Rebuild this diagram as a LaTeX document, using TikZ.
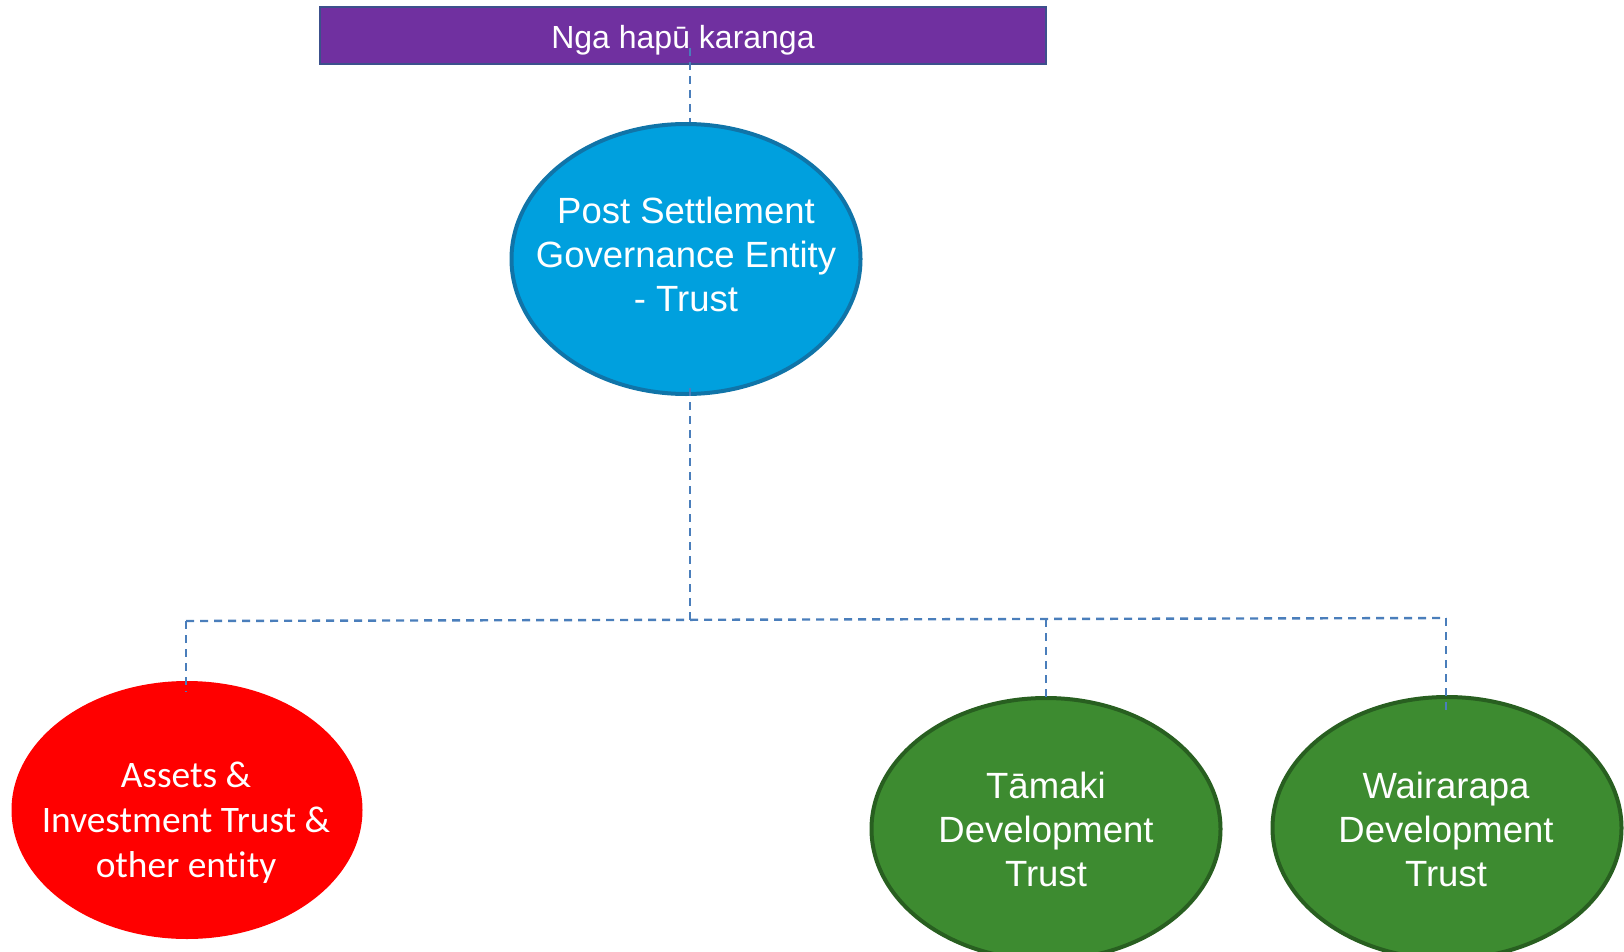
\documentclass[tikz,border=0pt]{standalone}
\usepackage{fontspec}
\setmainfont{Liberation Sans}
\newfontfamily\calib[Ligatures=NoCommon]{Carlito}
\usetikzlibrary{shapes.geometric}
\definecolor{hpurple}{RGB}{112,48,160}
\definecolor{hpborder}{RGB}{60,80,140}
\definecolor{pseblue}{RGB}{0,160,222}
\definecolor{pseborder}{RGB}{16,116,168}
\definecolor{assetred}{RGB}{255,0,0}
\definecolor{devgreen}{RGB}{61,139,48}
\definecolor{devborder}{RGB}{40,95,32}
\definecolor{connblue}{RGB}{74,126,187}
\tikzset{
  titlebox/.style={draw=hpborder, line width=1.5pt, fill=hpurple, minimum width=726pt, minimum height=57pt, inner sep=0pt},
  oval/.style={ellipse, inner sep=0pt, minimum width=349pt},
  pseshape/.style={oval, minimum height=270pt, fill=pseblue, draw=pseborder, line width=4pt},
  redshape/.style={oval, minimum width=351pt, minimum height=258pt, fill=assetred},
  greenshape/.style={oval, minimum height=262pt, fill=devgreen, draw=devborder, line width=4pt},
  lbl/.style={align=center, text=white, inner sep=0pt},
  titletext/.style={lbl, font=\fontsize{32}{38}\selectfont},
  arial/.style={lbl, font=\fontsize{36.5}{44}\selectfont},
  calibri/.style={lbl, font=\calib\fontsize{37.4}{45}\selectfont},
  conn/.style={draw=connblue, line width=2.4pt, dash pattern=on 8pt off 6pt},
}
\begin{document}
\begin{tikzpicture}[x=1pt,y=-1pt]
\useasboundingbox (0,0) rectangle (1624,952);
\node[titlebox] (top) at (683,35.5) {};
\node[titletext] (topt) at (683,40) {Nga hapū karanga};
\node[pseshape] (pse) at (686,259) {};
\node[arial] (pset) at (686,254) {Post Settlement\\Governance Entity\\- Trust};
\node[redshape] (ast) at (187,810) {};
\node[calibri] (astt) at (186,823) {Assets \&\\Investment Trust \&\\other entity};
\node[greenshape] (tam) at (1046,829) {};
\node[arial] (tamt) at (1046,829) {Tāmaki\\Development\\Trust};
\node[greenshape] (wai) at (1447,828) {};
\node[arial] (wait) at (1446,829) {Wairarapa\\Development\\Trust};
% connectors
\coordinate (t1) at (690,48);
\coordinate (j) at (690,620);
\coordinate (hl) at (186,621);
\coordinate (hr) at (1446,618);
\coordinate (tj) at (1046,619);
\coordinate (ae) at (186,692);
\coordinate (te) at (1046,699);
\coordinate (we) at (1446,710);
\draw[conn] (t1) -- (t1 |- pse.north);
\draw[conn] ([yshift=8pt]pse.south -| j) -- (j);
\draw[conn] (hl) -- (hr);
\draw[conn] (hl) -- (ae);
\draw[conn] (tj) -- (te);
\draw[conn] (hr) -- (we);
\end{tikzpicture}
\end{document}
